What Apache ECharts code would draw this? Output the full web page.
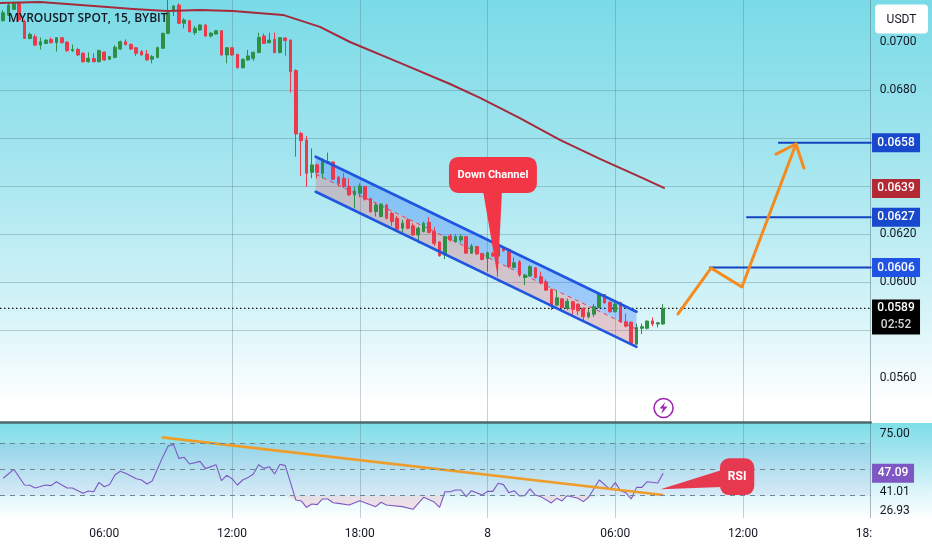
<!DOCTYPE html>
<html>
<head>
<meta charset="utf-8">
<style>html,body{margin:0;padding:0;background:#fff}#c{width:932px;height:550px}</style>
<script src="https://cdn.jsdelivr.net/npm/echarts@6/dist/echarts.min.js"></script>
</head>
<body>
<div id="c"></div>
<script>
// Candles: one per 15 minutes, first bar index relative to 06:00 on the 7th. Prices in 1e-5 USDT.
const firstBar = -19;
const opens = [7089,7112,7136,7161,7085,7015,7022,6987,6994,7011,6997,7018,7000,6964,6969,6953,6918,6931,6918,
6958,6928,6936,6971,7001,6990,6976,6960,6950,6928,6936,6974,7036,7129,7154,7078,7089,7039,7050,7071,7025,7033,7047,
6946,6976,6949,6893,6925,6932,6956,7025,6997,7011,6956,7017,7008,6881,6619,6592,6457,6488,6453,6495,6500,6436,6432,6398,
6363,6370,6398,6348,6293,6273,6321,6286,6266,6224,6259,6234,6196,6210,6248,6210,6167,6113,6192,6168,6175,6189,6120,6148,
6119,6098,6119,6108,6144,6136,6061,6084,6019,6025,6059,6022,6001,5969,5904,5930,5890,5918,5908,5890,5855,5866,5894,5948,
5916,5876,5914,5834,5833,5741,5807,5807,5838,5825,5825];
const closes = [7122,7154,7161,7092,7015,7032,6987,7001,7008,6997,7018,6997,6964,6969,6946,6918,6932,6918,6964,
6925,6939,6978,7001,6989,6971,6953,6946,6925,6939,6976,7036,7122,7150,7078,7092,7043,7057,7071,7025,7037,7047,6946,
6976,6946,6893,6928,6942,6957,7019,6994,7008,6956,7018,7006,6876,6617,6589,6453,6488,6457,6502,6502,6428,6411,6398,6363,
6379,6400,6345,6293,6321,6324,6266,6252,6220,6245,6224,6196,6224,6245,6206,6161,6109,6189,6175,6189,6189,6120,6150,6117,
6094,6122,6108,6144,6130,6064,6080,6029,6029,6064,6019,5997,5966,5900,5934,5894,5920,5886,5880,5855,5872,5897,5950,5913,
5876,5908,5834,5816,5744,5811,5814,5837,5825,5830,5890];
const lows = [7085,7108,7133,7085,7015,7011,6983,6969,6992,6994,6960,6994,6958,6958,6942,6914,6914,6915,6915,
6922,6925,6932,6967,6986,6967,6942,6943,6922,6911,6932,6971,7033,7108,7075,7057,7040,7029,7047,7022,7019,7031,6942,
6911,6943,6890,6890,6922,6921,6953,6992,6994,6953,6953,6942,6789,6522,6442,6397,6432,6432,6432,6492,6425,6398,6391,6359,
6307,6353,6339,6289,6273,6270,6261,6234,6210,6206,6220,6193,6161,6207,6203,6150,6106,6095,6168,6164,6164,6117,6117,6113,
6091,6043,6105,6022,6127,6057,6057,6022,5987,6022,6015,5991,5963,5883,5900,5891,5883,5862,5862,5834,5848,5855,5890,5911,
5872,5873,5830,5811,5741,5739,5783,5802,5816,5811,5822];
const highs = [7133,7164,7168,7164,7092,7039,7032,7019,7011,7019,7019,7019,7001,6990,6976,6957,6957,6953,6969,
6960,6942,6987,7006,7011,6994,6978,6967,6967,6946,6981,7039,7175,7154,7161,7099,7092,7067,7074,7074,7040,7050,7050,
6978,6978,6950,6932,6967,6960,7039,7036,7039,7039,7019,7019,7011,6886,6626,6608,6557,6495,6516,6539,6502,6442,6453,6432,
6398,6411,6400,6349,6331,6328,6325,6293,6275,6259,6266,6245,6231,6252,6270,6228,6168,6192,6200,6199,6199,6192,6159,6150,
6119,6126,6126,6150,6147,6140,6102,6091,6033,6070,6061,6043,6011,5973,5964,5932,5932,5922,5911,5894,5886,5908,5952,5950,
5918,5914,5918,5869,5834,5827,5827,5841,5852,5834,5908];

// Moving average: hours since 00:00 on the 7th, and price
const maHours = [1.1,2.98,4.25,6.13,7.35,8.94,10.49,12.04,14.39,16.13,17.54,19.89,22.24,23.65,25.52,27.4,29.28,31.16,32.29];
const maValues = [.07163,.07167,.07158,.07146,.07138,.07129,.07133,.07129,.07113,.07063,.0700,.06913,.06825,.06767,.06683,.06592,.06513,.06438,.06392];

// RSI: bar index and value
const rsiBars = [-19,-17,-15,-14,-13,-11,-10,-9,-7,-6,-4,-3,-2,-1,0,1,2,3,4,6,7,8,9,11,12,13,14,15,16,18,19,21,22,23,24,25,26,27,28,29,30,31,32,33,34,36,37,38,39,40,41,42,43,44,46,48,51,52,53,56,58,60,62,63,64,65,66,67,68,69,71,72,73,74,75,76,77,78,79,80,81,82,84,85,86,87,89,90,91,93,95,96,97,98,99,100,101,102,104,105];
const rsiValues = [43.2,50,38.1,37.9,35.8,38.1,37.6,40.6,35.8,35.8,31.8,33.6,33,40.1,36.8,38.4,45.7,48.5,47,42.9,41.9,38.9,41.1,59.6,67.6,68.9,58.3,59.1,54,56,50.5,53.5,41.4,45.4,42.9,38.1,41.9,43.7,46.4,53.5,50.7,52,46.4,53.8,52.8,26.7,26,21.2,23.7,23.2,27.5,27.5,24.7,24.2,23,26.2,21.7,25,23,21.7,19.7,28.8,25.2,21.2,33,33,34.3,34.3,29.3,33.8,30.5,33.3,33.3,39.4,38.4,32.3,33.8,29.8,30,35.1,30.5,29.3,24.5,28,26,30,28,25.5,28.8,41.9,34.8,39.9,33.8,32.3,27.5,36.3,36.3,40.6,39.6,47.09];

// Drawings on the price pane
const channelHours = [15.93,31.0];
const channelUpper = [.06522,.05876];
const channelMiddle = [.06449,.05803];
const channelLower = [.06376,.05730];
const targetStarts = [34.45,36.19,37.69];
const targetPrices = [.0606,.0627,.0658];
const pathHours = [32.95,34.5,35.95,38.49];
const pathPrices = [.05867,.06058,.05979,.06575];
const arrowHours = [37.55,38.49,38.86];
const arrowPrices = [.06533,.06575,.06475];
const rsiTrendHours = [8.7,32.25];
const rsiTrendValues = [74.2,30.5];

// Axes
const xMin = 1.1, xMax = 42;
const priceMin = .0541375, priceMax = .07175;
const rsiMin = 13.1, rsiMax = 85.08;
const timeTicks = [6,12,18,24,30,36,42];
const timeLabelHours = [6,12,18,24,30,36,41.68];
const timeLabels = ['06:00','12:00','18:00','8','06:00','12:00','18:'];
const priceTicks = [.07,.068,.066,.064,.062,.06,.058,.056];
const priceLabels = [.07,.068,.064,.062,.06,.058,.056];
const rsiLevels = [70,50,30];
const rsiLines = [75,26];
const rsiLabelAt = [76.7,32.8,18.4];
const rsiLabelText = ['75.00','41.01','26.93'];

const tagPrices = [.0658,.0639,.0627,.0606];
const tagColors = ['#1848cc','#b22833','#1848cc','#1e53e5'];
const lastPrice = .0589, countdown = '02:52', lastRsi = 47.09;

const font = 'Roboto';
const gridCol = 'rgba(85,115,125,0.33)';
const blue = '#1f56e0', orange = '#f58a1f', dark = '#131722';
const hourOf = k => 6 + k / 4;

function simpleLine(name, hs, vs, color, width, z, extra) {
  return Object.assign({
    name, type: 'line', xAxisIndex: 0, yAxisIndex: 0, showSymbol: false, silent: true, z,
    data: hs.map((h, i) => [h, vs[i]]),
    lineStyle: { color, width, cap: 'round', join: 'round' }
  }, extra || {});
}
function poly(api, pts, fill) {
  return { type: 'polygon', shape: { points: pts.map(p => api.coord(p)) }, style: { fill } };
}
function callout(api, box, ptr, text, color, fontSize) {
  const a = api.coord([box[0], box[2]]), b = api.coord([box[1], box[3]]);
  const c = api.coord([(box[0] + box[1]) / 2, (box[2] + box[3]) / 2]);
  return { type: 'group', children: [
    poly(api, ptr, color),
    { type: 'rect', shape: { x: a[0], y: a[1], width: b[0] - a[0], height: b[1] - a[1], r: 9 }, style: { fill: color } },
    { type: 'text', x: c[0], y: c[1], style: { text, fill: '#fff', font: `bold ${fontSize}px "Liberation Sans Narrow", Roboto`, align: 'center', verticalAlign: 'middle' } }
  ]};
}

const series = [
  { name: 'channel-fill', type: 'custom', xAxisIndex: 0, yAxisIndex: 0, z: 1, silent: true,
    data: [[channelHours[0], channelUpper[0]]],
    renderItem: (p, api) => ({ type: 'group', children: [
      poly(api, [[channelHours[0], channelUpper[0]], [channelHours[1], channelUpper[1]], [channelHours[1], channelMiddle[1]], [channelHours[0], channelMiddle[0]]], 'rgba(41,110,255,0.3)'),
      poly(api, [[channelHours[0], channelMiddle[0]], [channelHours[1], channelMiddle[1]], [channelHours[1], channelLower[1]], [channelHours[0], channelLower[0]]], 'rgba(242,54,69,0.23)')
    ]}) },
  { name: 'price', type: 'candlestick', xAxisIndex: 0, yAxisIndex: 0, z: 3, silent: true, barWidth: 3.2,
    data: opens.map((o, i) => [hourOf(firstBar + i), o / 1e5, closes[i] / 1e5, lows[i] / 1e5, highs[i] / 1e5]),
    itemStyle: { color: '#2f8f46', color0: '#ea3a4c', borderColor: '#2f8f46', borderColor0: '#ea3a4c', borderWidth: 1 } },
  simpleLine('ma', maHours, maValues, '#a52a3c', 2, 4),
  simpleLine('last', [xMin, xMax], [lastPrice, lastPrice], '#111', 1.3, 2, { lineStyle: { color: '#111', width: 1.3, type: [1.5, 2.5] } }),
  simpleLine('ch-up', channelHours, channelUpper, blue, 2.6, 5),
  simpleLine('ch-low', channelHours, channelLower, blue, 2.6, 5),
  simpleLine('ch-mid', channelHours, channelMiddle, '#ea3a4c', 1, 2, { lineStyle: { color: '#ea3a4c', width: 1, type: [4, 4] } }),
  ...targetStarts.map((s, i) => simpleLine('target' + i, [s, xMax], [targetPrices[i], targetPrices[i]], '#1443bf', 2, 5)),
  simpleLine('path', pathHours, pathPrices, orange, 3, 6),
  simpleLine('arrow', arrowHours, arrowPrices, orange, 3, 6),
  { name: 'callout1', type: 'custom', xAxisIndex: 0, yAxisIndex: 0, z: 9, silent: true,
    data: [[24, .064]],
    renderItem: (p, api) => callout(api, [22.19, 26.32, .06521, .06371], [[23.79, .0638], [24.68, .0638], [24.48, .06021]], 'Down Channel', '#f23645', 11) },
  { name: 'bolt', type: 'scatter', xAxisIndex: 0, yAxisIndex: 0, z: 8, silent: true, clip: false,
    data: [
      { value: [32.27, .05475], symbol: 'circle', symbolSize: 19, itemStyle: { opacity: 1, color: '#fff', borderColor: '#9c27b0', borderWidth: 1.6 } },
      { value: [32.27, .05475], symbol: 'path://M13 0 L3 13 H9 L6 24 L17 9 H10 Z', symbolSize: [8, 12], itemStyle: { opacity: 1, color: '#9c27b0' } }
    ] },
  { name: 'price-tags', type: 'scatter', xAxisIndex: 0, yAxisIndex: 0, z: 20, silent: true, clip: false,
    data: tagPrices.map((v, i) => ({ value: [43.19, v], symbol: 'rect', symbolSize: [48, 19], itemStyle: { opacity: 1, color: tagColors[i] },
      label: { show: true, position: 'inside', formatter: v.toFixed(4), color: '#fff', fontFamily: font, fontSize: 12, fontWeight: 500 } })) },
  { name: 'last-tag', type: 'scatter', xAxisIndex: 0, yAxisIndex: 0, z: 20, silent: true, clip: false,
    data: [{ value: [43.19, lastPrice], symbol: 'rect', symbolSize: [48, 35], symbolOffset: [0, 8.5], itemStyle: { opacity: 1, color: '#000' },
      label: { show: true, position: 'inside', offset: [0, 0], formatter: lastPrice.toFixed(4) + '\n{t|' + countdown + '}', color: '#fff', fontFamily: font, fontSize: 12, fontWeight: 500, lineHeight: 17,
        rich: { t: { color: '#d5d5d5', fontFamily: font, fontSize: 12, lineHeight: 17 } } } }] },

  // RSI pane
  { name: 'rsi-band', type: 'line', xAxisIndex: 1, yAxisIndex: 1, z: 1, silent: true, showSymbol: false,
    data: [[xMin, 0], [xMax, 0]], lineStyle: { width: 0 },
    markArea: { silent: true, itemStyle: { color: 'rgba(110,100,210,0.09)' }, data: [[{ yAxis: rsiLevels[0] }, { yAxis: rsiLevels[2] }]] },
    markLine: { silent: true, symbol: 'none', label: { show: false }, lineStyle: { color: '#6b8791', type: [5, 5], width: 1 }, data: rsiLevels.map(v => ({ yAxis: v })) } },
  { name: 'rsi-os', type: 'line', xAxisIndex: 1, yAxisIndex: 1, z: 2, silent: true, showSymbol: false,
    data: rsiBars.map((k, i) => [hourOf(k), Math.min(rsiValues[i], rsiLevels[2])]),
    lineStyle: { width: 0 }, areaStyle: { origin: rsiLevels[2], color: 'rgba(242,90,120,0.22)' } },
  { name: 'rsi', type: 'line', xAxisIndex: 1, yAxisIndex: 1, z: 3, silent: true, showSymbol: false,
    data: rsiBars.map((k, i) => [hourOf(k), rsiValues[i]]), lineStyle: { color: '#7e57c2', width: 1.1 } },
  { name: 'rsi-trend', type: 'line', xAxisIndex: 1, yAxisIndex: 1, z: 4, silent: true, showSymbol: false,
    data: rsiTrendHours.map((h, i) => [h, rsiTrendValues[i]]), lineStyle: { color: '#ee9d2b', width: 2.6 } },
  { name: 'callout2', type: 'custom', xAxisIndex: 1, yAxisIndex: 1, z: 9, silent: true,
    data: [[35, 45]],
    renderItem: (p, api) => callout(api, [34.92, 36.53, 58.3, 30.5], [[35.01, 49.5], [35.01, 36.6], [32.13, 34.85]], 'RSI', '#e63950', 12) },
  { name: 'rsi-tag', type: 'scatter', xAxisIndex: 1, yAxisIndex: 1, z: 20, silent: true, clip: false,
    data: [{ value: [43.05, lastRsi], symbol: 'rect', symbolSize: [42, 19], itemStyle: { opacity: 1, color: '#7e57c2' },
      label: { show: true, position: 'inside', formatter: lastRsi.toFixed(2), color: '#fff', fontFamily: font, fontSize: 12, fontWeight: 500 } }] }
];

const baseX = { type: 'value', min: xMin, max: xMax, axisTick: { show: false, customValues: timeTicks },
  splitLine: { show: true, showMinLine: false, showMaxLine: false, lineStyle: { color: gridCol, width: 1 } } };

const option = {
  animation: false,
  backgroundColor: 'transparent',
  textStyle: { fontFamily: font },
  title: { text: 'MYROUSDT SPOT, 15, BYBIT', left: 8, top: 13, padding: 0,
    textStyle: { color: dark, fontFamily: 'Open Sans', fontSize: 12, fontWeight: 600 } },
  graphic: [
    { type: 'rect', z: -10, shape: { x: 0, y: 0, width: 932, height: 423 }, silent: true,
      style: { fill: new echarts.graphic.LinearGradient(0, 0, 0, 1, [
        { offset: 0, color: '#79dbe7' }, { offset: .35, color: '#a0e4ee' }, { offset: .7, color: '#cff2f7' }, { offset: .95, color: '#ffffff' }, { offset: 1, color: '#ffffff' }]) } },
    { type: 'rect', z: -10, shape: { x: 0, y: 423, width: 932, height: 96 }, silent: true,
      style: { fill: new echarts.graphic.LinearGradient(0, 0, 0, 1, [
        { offset: 0, color: '#7ddfe9' }, { offset: .3, color: '#a3e4ee' }, { offset: .7, color: '#dbf5f9' }, { offset: 1, color: '#ffffff' }]) } },
    { type: 'rect', z: 100, silent: true, shape: { x: 875, y: 4.5, width: 53, height: 29, r: 4 }, style: { fill: '#fff' } },
    { type: 'text', z: 101, silent: true, x: 901.5, y: 20, style: { text: 'USDT', fill: dark, font: '12px Roboto', align: 'center', verticalAlign: 'middle' } }
  ],
  grid: [
    { left: 0, top: 0, width: 870.7, height: 422.7 },
    { left: 0, top: 423, width: 870.7, height: 95 }
  ],
  xAxis: [
    Object.assign({}, baseX, { gridIndex: 0, axisLabel: { show: false },
      axisLine: { show: true, onZero: false, lineStyle: { color: '#4c6a6c', width: 2.5 } } }),
    Object.assign({}, baseX, { gridIndex: 1, axisLine: { show: false },
      axisLabel: { show: true, customValues: timeLabelHours, margin: 10, color: dark, fontFamily: font, fontSize: 12, hideOverlap: false,
        showMinLabel: true, showMaxLabel: true,
        formatter: v => timeLabels[timeLabelHours.indexOf(v)] } })
  ],
  yAxis: [
    { gridIndex: 0, type: 'value', position: 'right', min: priceMin, max: priceMax, scale: true,
      axisLine: { show: true, onZero: false, lineStyle: { color: 'rgba(85,115,125,0.5)', width: 1 } },
      axisTick: { show: false, customValues: priceTicks },
      axisLabel: { show: true, customValues: priceLabels, margin: 9, color: dark, fontFamily: font, fontSize: 12, formatter: v => v.toFixed(4) },
      splitLine: { show: true, showMinLine: false, showMaxLine: false, lineStyle: { color: gridCol, width: 1 } } },
    { gridIndex: 1, type: 'value', position: 'right', min: rsiMin, max: rsiMax,
      axisLine: { show: true, onZero: false, lineStyle: { color: 'rgba(85,115,125,0.5)', width: 1 } },
      axisTick: { show: false, customValues: rsiLines },
      axisLabel: { show: true, customValues: rsiLabelAt, margin: 9, color: dark, fontFamily: font, fontSize: 12,
        showMinLabel: true, showMaxLabel: true,
        formatter: v => rsiLabelText[rsiLabelAt.indexOf(v)] },
      splitLine: { show: true, showMinLine: false, showMaxLine: false, lineStyle: { color: 'rgba(120,140,150,0.4)', width: 1 } } }
  ],
  series
};
const chart = echarts.init(document.getElementById('c'), null, { renderer: 'canvas' });
chart.setOption(option);
</script>
</body>
</html>
